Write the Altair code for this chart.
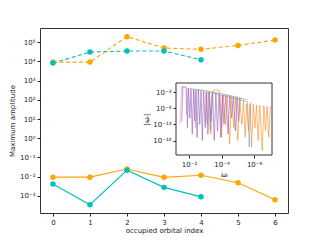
import altair as alt
import pandas as pd

# ---- main panel data ----
idx_orange = [0, 1, 2, 3, 4, 5, 6]
idx_cyan = [0, 1, 2, 3, 4]
orange_dashed = [9100, 9100, 190000, 49000, 42000, 67000, 127000]
cyan_dashed = [8100, 30000, 34000, 34000, 12000]
orange_solid = [0.0095, 0.0095, 0.025, 0.0093, 0.012, 0.0049, 0.00063]
cyan_solid = [0.0042, 0.00035, 0.022, 0.0028, 0.0009]

main_y_ticks = [1e-3, 1e-2, 1e-1, 1e0, 1e1, 1e2, 1e3, 1e4, 1e5]
main_x_ticks = [0, 1, 2, 3, 4, 5, 6]

# ---- inset data: log10(omega), log10(amplitude) ----
purple_lx = [-1.55, -1.62, -1.75, -1.85, -1.9, -1.97, -2.05, -2.12, -2.2, -2.28, -2.35, -2.42, -2.5, -2.58,
             -2.66, -2.74, -2.82, -2.9, -3.0, -3.08, -3.16, -3.25, -3.35, -3.45, -3.55, -3.65, -3.75, -3.85,
             -3.95, -4.05, -4.15, -4.25, -4.4, -4.5, -4.62, -4.72, -4.85, -4.95, -5.05, -5.15]
purple_ly = [-12, -1.3, -1.4, -1.6, -14, -1.7, -11, -1.9, -16, -2.0, -12, -2.2, -17, -2.3,
             -13, -2.5, -18, -2.6, -14, -2.8, -16, -3.0, -12, -3.2, -18, -3.4, -15, -3.6,
             -17, -3.8, -13, -4.0, -16, -4.2, -11, -4.5, -15, -4.7, -12, -4.9]
pink_lx = [-1.45, -1.55, -1.7, -1.8, -1.85, -1.95, -2.3, -2.4, -2.5, -3.0, -3.1, -3.2, -3.9, -4.0, -4.1, -4.8, -5.3]
pink_ly = [-13, -1.2, -1.1, -1.5, -10, -1.7, -2.0, -14, -2.2, -2.7, -13, -2.9, -3.6, -14, -3.8, -4.4, -5.0]
orange_lx = [-3.0, -3.1, -3.25, -3.35, -3.45, -3.5, -3.85, -3.9, -4.0, -4.1, -4.25, -4.35, -4.5, -4.6,
             -4.75, -4.85, -5.0, -5.1, -5.25, -5.35, -5.45, -5.55, -5.65, -5.75, -5.85, -5.95, -6.05,
             -6.15, -6.25, -6.35, -6.5, -6.6, -6.7, -6.8, -6.9, -7.0]
orange_ly = [-12, -2.9, -3.0, -16, -3.2, -2.3, -2.3, -3.6, -17, -3.8, -13, -4.0, -19, -4.3,
             -14, -4.6, -18, -4.9, -13, -5.5, -17, -6.5, -15, -6.6, -20, -6.8, -14,
             -7.0, -18, -7.0, -21, -7.2, -15, -7.3, -17, -7.4]
green_lx = [-2.3, -3.0, -4.0, -5.0, -5.6]
green_ly = [-2.0, -2.4, -3.4, -4.6, -5.4]
blue_lx = [-3.2, -3.3, -3.4, -5.6, -5.7, -5.8]
blue_ly = [-3.0, -15, -3.1, -6.0, -20, -6.0]

inset_y_ticks = [1e-3, 1e-8, 1e-13, 1e-18]
inset_x_ticks = [1e-2, 1e-4, 1e-6]

FONT = "DejaVu Sans"
SUP = ("'10' + replace(replace(replace(replace(replace(replace(replace(replace(replace(replace(replace("
       "toString(round(log(datum.value)/LN10)),'-','⁻'),'0','⁰'),'1','¹'),'2','²'),'3','³'),'4','⁴'),"
       "'5','⁵'),'6','⁶'),'7','⁷'),'8','⁸'),'9','⁹')")

W, H = 248, 185

xs = alt.Scale(domain=[-0.35, 6.35], nice=False, zero=False)
ys = alt.Scale(type="log", domain=[10 ** -3.885, 10 ** 5.73], nice=False)
xaxis = alt.Axis(values=main_x_ticks, format="d", title="occupied orbital index", titlePadding=1)
yaxis = alt.Axis(values=main_y_ticks, labelExpr=SUP, title="Maximum amplitude", titlePadding=4)


def main_series(idx, vals, color, dashed):
    df = pd.DataFrame({"i": idx, "v": vals})
    base = alt.Chart(df).encode(
        x=alt.X("i:Q", scale=xs, axis=xaxis),
        y=alt.Y("v:Q", scale=ys, axis=yaxis),
    )
    if dashed:
        line = base.mark_line(color=color, strokeWidth=1.1, strokeDash=[4, 2.5])
    else:
        line = base.mark_line(color=color, strokeWidth=1.1)
    pts = base.mark_circle(color=color, size=30, opacity=1)
    return line + pts


main = alt.layer(
    main_series(idx_orange, orange_dashed, "#FFA500", True),
    main_series(idx_cyan, cyan_dashed, "#00BFBF", True),
    main_series(idx_orange, orange_solid, "#FFA500", False),
    main_series(idx_cyan, cyan_solid, "#00BFBF", False),
)

# inset placement (plot-area pixels)
IX0, IX1, IY0, IY1 = 136, 232, 55, 127
ixs = alt.Scale(type="log", domain=[10 ** -7.1, 10 ** -1.2], range=[IX1, IX0], nice=False)
iys = alt.Scale(type="log", domain=[10 ** -22.5, 10 ** -0.1], range=[IY1, IY0], nice=False)
ixaxis = alt.Axis(values=inset_x_ticks, labelExpr=SUP, title="ωᵢ", orient="bottom",
                  offset=IY1 - H, domain=False, titlePadding=3)
iyaxis = alt.Axis(values=inset_y_ticks, labelExpr=SUP, title="|ωᵢ|", orient="left",
                  offset=-IX0, domain=False, titlePadding=3)

frame = alt.Chart(pd.DataFrame({"a": [0]})).mark_rect(
    fill="white", stroke="#333", strokeWidth=1
).encode(x=alt.value(IX0), x2=alt.value(IX1), y=alt.value(IY0), y2=alt.value(IY1))


def inset_series(lx, ly, color, opacity, sw=0.8):
    df = pd.DataFrame({"w": [10 ** e for e in lx], "a": [10 ** e for e in ly], "o": list(range(len(lx)))})
    return alt.Chart(df).mark_line(color=color, opacity=opacity, strokeWidth=sw).encode(
        x=alt.X("w:Q", scale=ixs, axis=ixaxis),
        y=alt.Y("a:Q", scale=iys, axis=iyaxis),
        order="o:Q",
    )


inset = alt.layer(
    inset_series(blue_lx, blue_ly, "#1f77b4", 0.5),
    inset_series(orange_lx, orange_ly, "#ff7f0e", 0.7),
    inset_series(pink_lx, pink_ly, "#e377c2", 0.6),
    inset_series(purple_lx, purple_ly, "#9467bd", 0.8),
    inset_series(green_lx, green_ly, "#2ca02c", 0.5),
)

chart = alt.layer(main, frame, inset).resolve_scale(x="independent", y="independent").properties(
    width=W, height=H,
    autosize=alt.AutoSizeParams(type="none"),
    padding={"left": 32, "top": 20, "right": 24, "bottom": 26},
).configure(
    background="white",
    view=alt.ViewConfig(stroke="#333", strokeWidth=1),
    axis=alt.AxisConfig(
        grid=False, domain=False, tickSize=3, tickColor="#222", labelColor="#222", titleColor="#222",
        labelFont=FONT, titleFont=FONT, labelFontSize=7, titleFontSize=7, titleFontWeight="normal",
        labelPadding=2,
    ),
)

chart.save("out.html", embed_options={"renderer": "svg", "actions": False})
